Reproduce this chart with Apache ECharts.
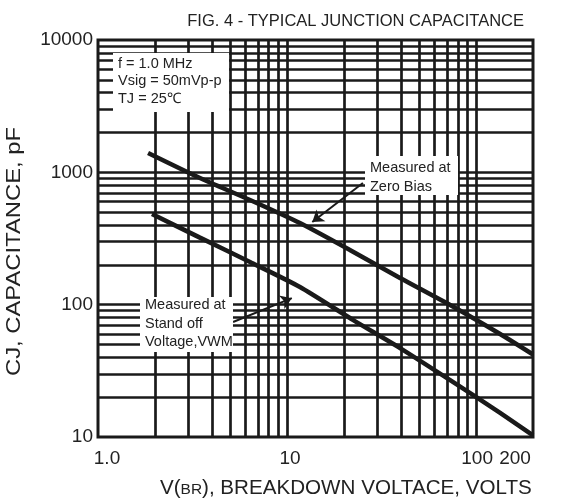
<!DOCTYPE html>
<html>
<head>
<meta charset="utf-8">
<script src="https://cdn.jsdelivr.net/npm/echarts@6/dist/echarts.min.js"></script>
<style>html,body{margin:0;padding:0;background:#fff;}#c{width:569px;height:502px;}</style>
</head>
<body>
<div id="c"></div>
<script>
const xTickValues = [1, 10, 100, 200];
const xTickLabels = ['1.0', '10', '100', '200'];
const yTickValues = [10, 100, 1000, 10000];
const yTickLabels = ['10', '100', '1000', '10000'];
const gridX = [2, 3, 4, 5, 6, 7, 8, 9, 10, 20, 30, 40, 50, 60, 70, 80, 90, 100];
const gridY = [20, 30, 40, 50, 60, 70, 80, 90, 100, 200, 300, 400, 500, 600, 700, 800, 900, 1000, 2000, 3000, 4000, 5000, 6000, 7000, 8000, 9000];
const zeroBiasV = [1.84, 3.46, 6.37, 11.7, 21.5, 39.6, 72.9, 134, 200];
const zeroBiasC = [1400, 906, 618, 414, 259, 159, 99.3, 60, 42];
const standOffV = [1.93, 3.46, 6.37, 11.7, 22.4, 39.6, 72.9, 134, 200];
const standOffC = [484, 321, 210, 136, 76.5, 47, 26.9, 15.2, 10.3];
const zeroArrow = [[25.2, 830], [13.6, 421]];
const standArrow = [[5.18, 74], [10.6, 112]];

const FONT = 'Liberation Sans, Arial, sans-serif';
const INK = '#1a1a1a';
const TXT = '#222';

const chart = echarts.init(document.getElementById('c'), null, {renderer: 'canvas'});
const xShift = {'1.0': 'a', '10': 'b', '100': 'c', '200': 'd'};
chart.setOption({
  animation: false,
  backgroundColor: '#fff',
  title: {
    text: 'FIG. 4 - TYPICAL JUNCTION CAPACITANCE',
    right: 40, top: 8,
    textStyle: {fontFamily: FONT, fontSize: 16.5, fontWeight: 'normal', color: TXT}
  },
  grid: {left: 98, right: 36, top: 40, bottom: 65, show: true, borderColor: INK, borderWidth: 3, backgroundColor: 'transparent'},
  xAxis: {
    type: 'log', logBase: 10, min: 1, max: 200,
    axisLine: {show: false}, axisTick: {show: false}, splitLine: {show: false},
    axisLabel: {
      customValues: xTickValues,
      margin: 12,
      fontFamily: FONT, fontSize: 19, color: TXT,
      formatter: function (v) {
        let best = 0;
        for (let i = 0; i < xTickValues.length; i++) {
          if (Math.abs(Math.log10(v) - Math.log10(xTickValues[i])) < Math.abs(Math.log10(v) - Math.log10(xTickValues[best]))) best = i;
        }
        const t = xTickLabels[best];
        return '{' + xShift[t] + '|' + t + '}';
      },
      rich: {
        a: {fontFamily: FONT, fontSize: 19, color: TXT, padding: [0, 0, 0, 18]},
        b: {fontFamily: FONT, fontSize: 19, color: TXT, padding: [0, 0, 0, 6]},
        c: {fontFamily: FONT, fontSize: 19, color: TXT, padding: [0, 0, 0, 2]},
        d: {fontFamily: FONT, fontSize: 19, color: TXT, padding: [0, 36, 0, 0]}
      }
    }
  },
  yAxis: {
    type: 'log', logBase: 10, min: 10, max: 10000,
    axisLine: {show: false}, axisTick: {show: false}, splitLine: {show: false},
    axisLabel: {
      customValues: yTickValues,
      margin: 5,
      fontFamily: FONT, fontSize: 19, color: TXT,
      formatter: function (v) {
        const e = Math.round(Math.log10(v));
        return yTickLabels[e - 1];
      }
    }
  },
  series: [
    {
      type: 'line', z: 1, silent: true, symbol: 'none', data: [[1, 10]],
      lineStyle: {opacity: 0},
      markLine: {
        silent: true, symbol: ['none', 'none'], animation: false,
        label: {show: false},
        lineStyle: {color: INK, width: 2.7, type: 'solid'},
        emphasis: {disabled: true},
        data: gridX.map(v => ({xAxis: v})).concat(gridY.map(v => ({yAxis: v})))
      }
    },
    {
      name: 'Zero Bias', type: 'line', z: 5, symbol: 'none', smooth: 0.2,
      lineStyle: {color: INK, width: 4.5},
      data: zeroBiasV.map((v, i) => [v, zeroBiasC[i]])
    },
    {
      name: 'Stand off', type: 'line', z: 5, symbol: 'none', smooth: 0.2,
      lineStyle: {color: INK, width: 4.5},
      data: standOffV.map((v, i) => [v, standOffC[i]])
    },
    {
      type: 'line', z: 60, silent: true, symbol: 'none', data: [[1, 10]],
      lineStyle: {opacity: 0},
      markLine: {
        silent: true, symbol: ['none', 'arrow'], symbolSize: 11, animation: false,
        label: {show: false},
        lineStyle: {color: INK, width: 2, type: 'solid'},
        emphasis: {disabled: true},
        data: [
          [{coord: zeroArrow[0]}, {coord: zeroArrow[1]}],
          [{coord: standArrow[0]}, {coord: standArrow[1]}]
        ]
      }
    }
  ],
  graphic: [
    {type: 'rect', z: 50, shape: {x: 113, y: 53, width: 116, height: 59}, style: {fill: '#fff'}},
    {type: 'text', z: 51, left: 118, top: 55, style: {text: 'f = 1.0 MHz\nVsig = 50mVp-p\nTJ = 25℃', fontFamily: FONT, fontSize: 14.5, lineHeight: 17.5, fill: TXT}},
    {type: 'rect', z: 50, shape: {x: 365, y: 156, width: 93, height: 39}, style: {fill: '#fff'}},
    {type: 'text', z: 51, left: 370, top: 158, style: {text: 'Measured at\nZero Bias', fontFamily: FONT, fontSize: 14.5, lineHeight: 19, fill: TXT}},
    {type: 'rect', z: 50, shape: {x: 140, y: 297, width: 93, height: 55}, style: {fill: '#fff'}},
    {type: 'text', z: 51, left: 145, top: 296, style: {text: 'Measured at\nStand off\nVoltage,VWM', fontFamily: FONT, fontSize: 14.5, lineHeight: 18.5, fill: TXT}},
    {type: 'text', z: 51, x: 160, y: 476, scaleX: 1.03, style: {
      text: '{n|V(}{s|BR}{n|), BREAKDOWN VOLTACE, VOLTS}',
      rich: {
        n: {fontFamily: FONT, fontSize: 20, fill: TXT, verticalAlign: 'bottom', lineHeight: 22},
        s: {fontFamily: FONT, fontSize: 15, fill: TXT, verticalAlign: 'bottom', lineHeight: 22, padding: [0, 0, 1, 0]}
      }
    }},
    {type: 'text', z: 51, x: 4, y: 376, rotation: Math.PI / 2, scaleX: 1.19, style: {text: 'CJ, CAPACITANCE, pF', fontFamily: FONT, fontSize: 20, fill: TXT}}
  ]
});
</script>
</body>
</html>
